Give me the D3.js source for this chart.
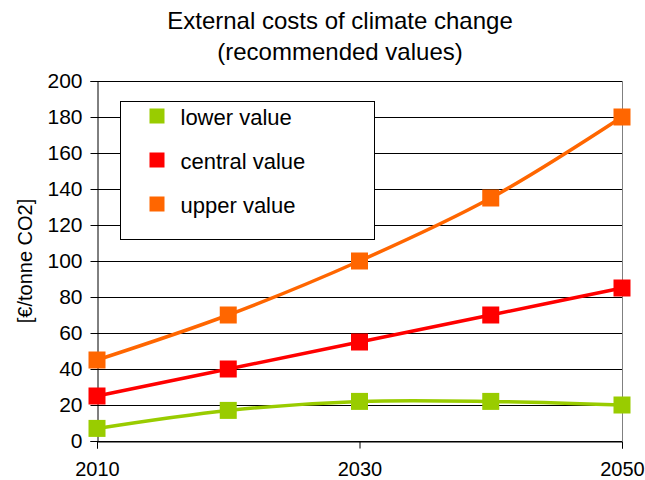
<!DOCTYPE html>
<html>
<head>
<meta charset="utf-8">
<script src="https://cdn.jsdelivr.net/npm/d3@7"></script>
<style>
  body { margin: 0; background: #fff; }
  text { font-family: "Liberation Sans", Arial, sans-serif; fill: #000; }
</style>
</head>
<body>
<svg id="chart" width="645" height="480"></svg>
<script>
const years = [2010, 2020, 2030, 2040, 2050];
const lowerValues = [7, 17, 22, 22, 20];
const centralValues = [25, 40, 55, 70, 85];
const upperValues = [45, 70, 100, 135, 180];
const seriesNames = ["lower value", "central value", "upper value"];
const seriesColors = ["#99cc00", "#ff0000", "#ff6600"];
const yTicks = [0, 20, 40, 60, 80, 100, 120, 140, 160, 180, 200];
const xTicks = [2010, 2030, 2050];

const svg = d3.select("#chart");
const margin = { left: 97, right: 23, top: 81, bottom: 39 };
const width = 645 - margin.left - margin.right;
const height = 480 - margin.top - margin.bottom;

const x = d3.scaleLinear().domain([2010, 2050]).range([0, width]);
const y = d3.scaleLinear().domain([0, 200]).range([height, 0]);

// title
svg.append("text")
  .attr("x", 340).attr("y", 29)
  .attr("text-anchor", "middle")
  .style("font-size", "24px")
  .text("External costs of climate change");
svg.append("text")
  .attr("x", 340).attr("y", 60)
  .attr("text-anchor", "middle")
  .style("font-size", "24px")
  .text("(recommended values)");

// y label
svg.append("text")
  .attr("transform", `translate(32, ${margin.top + height / 2}) rotate(-90)`)
  .attr("text-anchor", "middle")
  .style("font-size", "20px")
  .text("[€/tonne CO2]");

const g = svg.append("g").attr("transform", `translate(${margin.left}, ${margin.top})`);

// gridlines
g.selectAll(".grid")
  .data(yTicks)
  .enter()
  .append("line")
  .attr("x1", 0)
  .attr("x2", width)
  .attr("y1", (d) => y(d) + 0.5)
  .attr("y2", (d) => y(d) + 0.5)
  .attr("stroke", "#000")
  .attr("stroke-width", 1);

// right border
g.append("line")
  .attr("x1", width + 0.5).attr("x2", width + 0.5)
  .attr("y1", 0).attr("y2", height)
  .attr("stroke", "#808080");

// y axis
const yAxis = g.append("g")
  .attr("transform", "translate(0.5,0)")
  .call(d3.axisLeft(y).tickValues(yTicks).tickSize(7).tickPadding(8));
yAxis.select(".domain").attr("stroke", "#000");
yAxis.selectAll("text").style("font-size", "21px");

// x axis
const xAxis = g.append("g")
  .attr("transform", `translate(0, ${height + 0.5})`)
  .call(d3.axisBottom(x).tickValues(xTicks).tickFormat(d3.format("d")).tickSize(7).tickPadding(13));
xAxis.select(".domain").attr("stroke", "#000");
xAxis.selectAll("line").attr("stroke", "#000");
xAxis.selectAll("text").style("font-size", "20px");

// series
const allSeries = [lowerValues, centralValues, upperValues];
const line = d3.line()
  .x((d, i) => x(years[i]))
  .y((d) => y(d))
  .curve(d3.curveCatmullRom.alpha(0.5));

allSeries.forEach((values, s) => {
  g.append("path")
    .datum(values)
    .attr("fill", "none")
    .attr("stroke", seriesColors[s])
    .attr("stroke-width", 3.5)
    .attr("d", line);

  g.selectAll(".m" + s)
    .data(values)
    .enter()
    .append("rect")
    .attr("x", (d, i) => x(years[i]) - 8.5)
    .attr("y", (d) => y(d) - 8.5)
    .attr("width", 17)
    .attr("height", 17)
    .attr("fill", seriesColors[s]);
});

// legend
const legend = svg.append("g").attr("transform", "translate(120.5, 101.5)");
legend.append("rect")
  .attr("width", 254)
  .attr("height", 138)
  .attr("fill", "#fff")
  .attr("stroke", "#000");

seriesNames.forEach((name, i) => {
  legend.append("rect")
    .attr("x", 29)
    .attr("y", 7 + i * 44)
    .attr("width", 15)
    .attr("height", 15)
    .attr("fill", seriesColors[i]);
  legend.append("text")
    .attr("x", 60)
    .attr("y", 23 + i * 44)
    .style("font-size", "22px")
    .text(name);
});
</script>
</body>
</html>
